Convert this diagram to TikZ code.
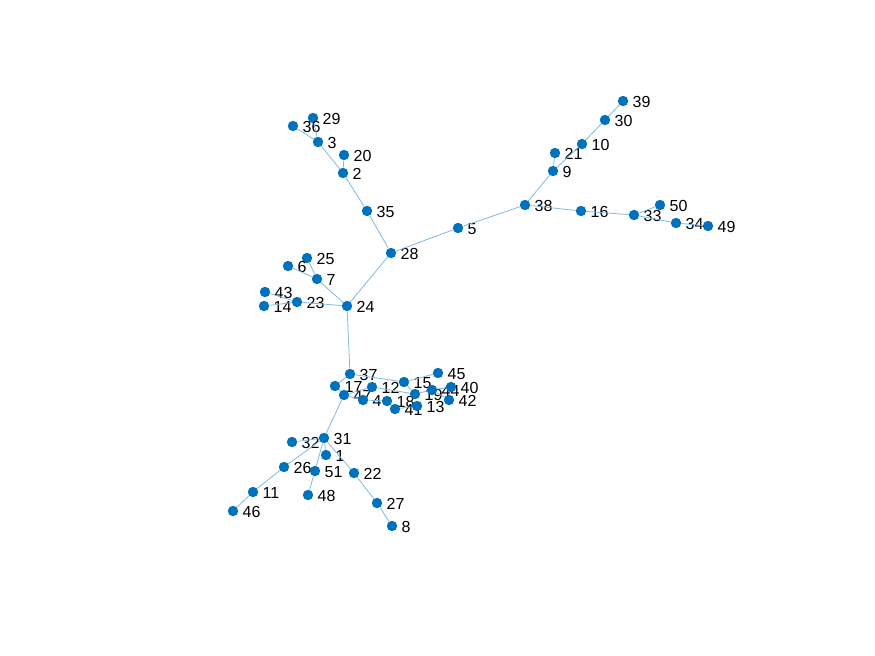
\documentclass[tikz,border=0pt]{standalone}
\usepackage{fontspec}
\setmainfont{Liberation Sans}
\usepackage{xcolor}
\definecolor{dotBlue}{RGB}{0,114,189}
\definecolor{edgeBlue}{RGB}{128,185,222}
\tikzset{
  vertex/.style={circle, fill=dotBlue, inner sep=0pt, minimum size=7.8pt},
  lbl/.style={inner sep=0.5pt, font=\fontsize{12}{14}\selectfont, label distance=2.5pt, yshift=-0.8pt},
  edge/.style={draw=edgeBlue, line width=0.6pt}
}

\begin{document}
\begin{tikzpicture}[x=0.75pt,y=-0.75pt]
  \useasboundingbox (0,0) rectangle (875,656);

  % upper right branch
  \node[vertex, label={[lbl]right:39}] (n39) at (623,101) {};
  \node[vertex, label={[lbl]right:30}] (n30) at (605,120) {};
  \node[vertex, label={[lbl]right:10}] (n10) at (582,144) {};
  \node[vertex, label={[lbl]right:21}] (n21) at (555,153) {};
  \node[vertex, label={[lbl]right:9}] (n9) at (553,171) {};
  \node[vertex, label={[lbl]right:38}] (n38) at (525,205) {};
  \node[vertex, label={[lbl]right:16}] (n16) at (581,211) {};
  \node[vertex, label={[lbl]right:33}] (n33) at (634,215) {};
  \node[vertex, label={[lbl]right:50}] (n50) at (660,205) {};
  \node[vertex, label={[lbl]right:34}] (n34) at (676,223) {};
  \node[vertex, label={[lbl]right:49}] (n49) at (708,226) {};
  \node[vertex, label={[lbl]right:5}] (n5) at (458,228) {};

  % upper left branch
  \node[vertex, label={[lbl]right:28}] (n28) at (391,253) {};
  \node[vertex, label={[lbl]right:35}] (n35) at (367,211) {};
  \node[vertex, label={[lbl]right:2}] (n2) at (343,173) {};
  \node[vertex, label={[lbl]right:20}] (n20) at (344,155) {};
  \node[vertex, label={[lbl]right:3}] (n3) at (318,142) {};
  \node[vertex, label={[lbl]right:29}] (n29) at (313,118) {};
  \node[vertex, label={[lbl]right:36}] (n36) at (293,126) {};

  % middle left
  \node[vertex, label={[lbl]right:24}] (n24) at (347,306) {};
  \node[vertex, label={[lbl]right:7}] (n7) at (317,279) {};
  \node[vertex, label={[lbl]right:25}] (n25) at (307,258) {};
  \node[vertex, label={[lbl]right:6}] (n6) at (288,266) {};
  \node[vertex, label={[lbl]right:23}] (n23) at (297,302) {};
  \node[vertex, label={[lbl]right:43}] (n43) at (265,292) {};
  \node[vertex, label={[lbl]right:14}] (n14) at (264,306) {};

  % dense cluster
  \node[vertex, label={[lbl]right:37}] (n37) at (350,374) {};
  \node[vertex, label={[lbl]right:17}] (n17) at (335,386) {};
  \node[vertex, label={[lbl]right:47}] (n47) at (344,395) {};
  \node[vertex, label={[lbl]right:12}] (n12) at (372,387) {};
  \node[vertex, label={[lbl]right:4}] (n4) at (363,400) {};
  \node[vertex, label={[lbl]right:18}] (n18) at (387,401) {};
  \node[vertex, label={[lbl]right:41}] (n41) at (395,409) {};
  \node[vertex, label={[lbl]right:15}] (n15) at (404,382) {};
  \node[vertex, label={[lbl]right:19}] (n19) at (415,394) {};
  \node[vertex, label={[lbl]right:13}] (n13) at (417,406) {};
  \node[vertex, label={[lbl]right:44}] (n44) at (432,390) {};
  \node[vertex, label={[lbl]right:45}] (n45) at (438,373) {};
  \node[vertex, label={[lbl]right:40}] (n40) at (451,387) {};
  \node[vertex, label={[lbl]right:42}] (n42) at (449,400) {};

  % lower branch
  \node[vertex, label={[lbl]right:31}] (n31) at (324,438) {};
  \node[vertex, label={[lbl]right:32}] (n32) at (292,442) {};
  \node[vertex, label={[lbl]right:1}] (n1) at (326,455) {};
  \node[vertex, label={[lbl]right:26}] (n26) at (284,467) {};
  \node[vertex, label={[lbl]right:51}] (n51) at (315,471) {};
  \node[vertex, label={[lbl]right:22}] (n22) at (354,473) {};
  \node[vertex, label={[lbl]right:11}] (n11) at (253,492) {};
  \node[vertex, label={[lbl]right:46}] (n46) at (233,511) {};
  \node[vertex, label={[lbl]right:48}] (n48) at (308,495) {};
  \node[vertex, label={[lbl]right:27}] (n27) at (377,503) {};
  \node[vertex, label={[lbl]right:8}] (n8) at (392,526) {};

  % edges
  \draw[edge] (n39) -- (n30) -- (n10) -- (n9) -- (n38);
  \draw[edge] (n21) -- (n9);
  \draw[edge] (n38) -- (n16) -- (n33) -- (n34) -- (n49);
  \draw[edge] (n33) -- (n50);
  \draw[edge] (n38) -- (n5) -- (n28);
  \draw[edge] (n28) -- (n35) -- (n2) -- (n3) -- (n36);
  \draw[edge] (n2) -- (n20);
  \draw[edge] (n3) -- (n29);
  \draw[edge] (n28) -- (n24);
  \draw[edge] (n24) -- (n7) -- (n6);
  \draw[edge] (n7) -- (n25);
  \draw[edge] (n24) -- (n23) -- (n14);
  \draw[edge] (n23) -- (n43);
  \draw[edge] (n24) -- (n37);
  \draw[edge] (n37) -- (n17) -- (n47);
  \draw[edge] (n37) -- (n15) -- (n45);
  \draw[edge] (n47) -- (n12) -- (n19);
  \draw[edge] (n47) -- (n4) -- (n18) -- (n41) -- (n13);
  \draw[edge] (n15) -- (n19) -- (n44) -- (n40);
  \draw[edge] (n44) -- (n42);
  \draw[edge] (n47) -- (n31);
  \draw[edge] (n31) -- (n32);
  \draw[edge] (n31) -- (n1);
  \draw[edge] (n31) -- (n26) -- (n11) -- (n46);
  \draw[edge] (n31) -- (n51) -- (n48);
  \draw[edge] (n31) -- (n22) -- (n27) -- (n8);
\end{tikzpicture}
\end{document}
